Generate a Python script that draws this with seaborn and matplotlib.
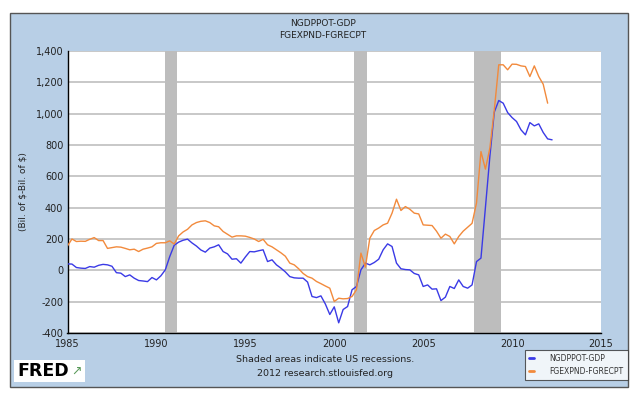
import numpy as np
import pandas as pd
import matplotlib
matplotlib.use("Agg")
import matplotlib.pyplot as plt
import seaborn as sns
from matplotlib.patches import Rectangle
from matplotlib.lines import Line2D

# Quarterly data, 1985Q1 onward
start_year = 1985.0
gdp_gap = [41, 40, 18, 14, 12, 24, 20, 32, 38, 35, 26, -15, -18, -40, -29, -50,
           -65, -68, -72, -46, -61, -35, 3, 88, 160, 180, 192, 199, 175, 155, 130, 116,
           142, 150, 163, 120, 105, 71, 74, 46, 85, 120, 118, 125, 131, 56, 67, 35,
           14, -10, -40, -48, -50, -50, -75, -167, -174, -163, -215, -282, -233, -335, -250, -231,
           -124, -103, 3, 46, 35, 50, 71, 131, 169, 152, 46, 10, 5, 3, -20, -29,
           -103, -93, -120, -118, -193, -171, -103, -116, -61, -103, -114, -93, 56, 78, 400, 726,
           1010, 1084, 1067, 1007, 975, 950, 897, 865, 943, 922, 935, 880, 839, 833]
deficit = [156, 200, 184, 186, 185, 198, 209, 190, 190, 140, 145, 150, 148, 140, 131, 135,
           120, 135, 142, 150, 172, 176, 176, 188, 168, 220, 245, 262, 290, 305, 313, 316,
           305, 284, 278, 248, 230, 212, 220, 220, 218, 210, 200, 184, 198, 163, 150, 131,
           112, 90, 46, 35, 10, -20, -40, -50, -71, -85, -100, -114, -199, -178, -182, -180,
           -167, -124, 110, 20, 205, 254, 270, 290, 301, 365, 454, 382, 407, 390, 365, 360,
           290, 288, 286, 250, 205, 231, 216, 169, 216, 250, 275, 300, 430, 758, 646, 780,
           1024, 1312, 1312, 1280, 1316, 1315, 1305, 1301, 1237, 1305, 1237, 1188, 1067]
recessions = [(1990.50, 1991.17), (2001.12, 2001.83), (2007.87, 2009.40)]
x_ticks = [1985, 1990, 1995, 2000, 2005, 2010, 2015]
y_ticks = [-400, -200, 0, 200, 400, 600, 800, 1000, 1200, 1400]

df_gap = pd.DataFrame({"date": start_year + 0.25 * np.arange(len(gdp_gap)), "value": gdp_gap})
df_def = pd.DataFrame({"date": start_year + 0.25 * np.arange(len(deficit)), "value": deficit})

sns.set_theme(style="white")
plt.rcParams['font.family'] = ['DejaVu Sans']

blue = "#3a3ae6"
orange = "#f28a3c"
bg = "#b8cfe6"

fig = plt.figure(figsize=(6.4, 3.94), dpi=100, facecolor="white")
# outer blue panel
bgrect = Rectangle((10 / 640, 1 - 387 / 394), 618 / 640, 374 / 394,
                   transform=fig.transFigure, facecolor=bg, edgecolor="#555555",
                   linewidth=1.0, zorder=-10)
fig.patches.append(bgrect)

ax = fig.add_axes([67.5 / 640, 1 - 333 / 394, (601 - 67.5) / 640, (333 - 51) / 394])
ax.set_zorder(1)
ax.set_facecolor("white")

for a, b in recessions:
    ax.axvspan(a, b, color="#bdbdbd", lw=0, zorder=1)

sns.lineplot(data=df_gap, x="date", y="value", ax=ax, color=blue, lw=1.0, zorder=3)
sns.lineplot(data=df_def, x="date", y="value", ax=ax, color=orange, lw=1.0, zorder=3)

ax.set_xlim(1985, 2015)
ax.set_ylim(-400, 1400)
ax.set_xticks(x_ticks)
ax.set_yticks(y_ticks)
ax.set_yticklabels([f"{v:,}" for v in y_ticks])
ax.yaxis.grid(True, color="#c8c8c8", lw=1.4, zorder=0)
ax.set_axisbelow(True)
for s in ["top", "right"]:
    ax.spines[s].set_visible(False)
for s in ["left", "bottom"]:
    ax.spines[s].set_color("black")
    ax.spines[s].set_linewidth(1.0)
ax.tick_params(axis="both", direction="in", length=4, width=1, color="black",
               labelsize=7, labelcolor="#222222", pad=3)
ax.tick_params(axis="x", pad=4)
ax.set_xlabel("")
ax.set_ylabel("(Bil. of \\$-Bil. of \\$)", fontsize=6.5, color="#222222", labelpad=6)

fig.text(323 / 640, 1 - 23 / 394, "NGDPPOT-GDP", ha="center", va="center", fontsize=6.5, color="#222222")
fig.text(323 / 640, 1 - 35 / 394, "FGEXPND-FGRECPT", ha="center", va="center", fontsize=6.5, color="#222222")
fig.text(325 / 640, 1 - 360 / 394, "Shaded areas indicate US recessions.", ha="center", va="center",
         fontsize=6.8, color="#222222")
fig.text(325 / 640, 1 - 374 / 394, "2012 research.stlouisfed.org", ha="center", va="center",
         fontsize=6.8, color="#222222")

# FRED logo
fig.patches.append(Rectangle((14 / 640, 1 - 382 / 394), 71 / 640, 22 / 394,
                             transform=fig.transFigure, facecolor="white", edgecolor="none", zorder=-5))
fig.text(17 / 640, 1 - 371 / 394, "FRED", ha="left", va="center", fontsize=12.5,
         fontweight="bold", color="black")
fig.text(71 / 640, 1 - 371 / 394, "\u2197", ha="left", va="center", fontsize=9, color="#5a9a5a")

handles = [Line2D([], [], color=blue, lw=2), Line2D([], [], color=orange, lw=2)]
leg = fig.legend(handles, ["NGDPPOT-GDP", "FGEXPND-FGRECPT"], loc="lower right",
                 bbox_to_anchor=(628 / 640, 1 - 380 / 394), fontsize=5.5, frameon=True,
                 handlelength=0.7, handletextpad=2.0, borderpad=0.55, labelspacing=0.5,
                 borderaxespad=0.0, fancybox=False)
leg.get_frame().set_edgecolor("#333333")
leg.get_frame().set_linewidth(0.8)
for t in leg.get_texts():
    t.set_color("#333333")

fig.savefig("out.png", dpi=100, facecolor="white")
